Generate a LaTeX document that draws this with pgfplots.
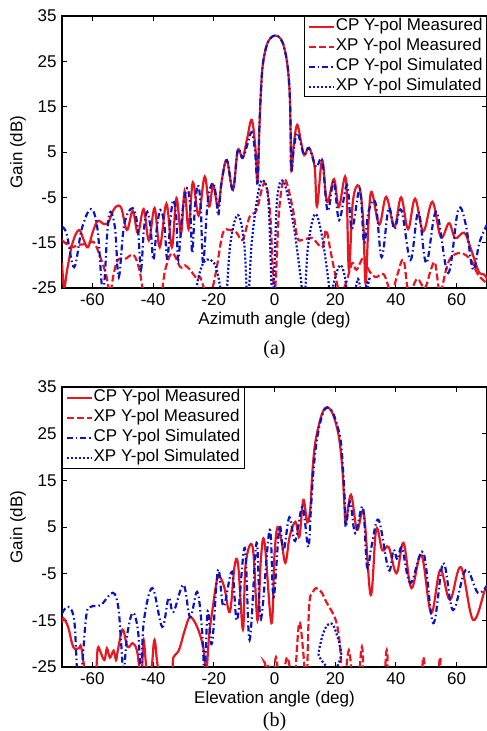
\documentclass[border=0pt]{standalone}
\usepackage{fontspec}
\setmainfont{Liberation Sans}
\newfontfamily\timesf{Liberation Serif}
\usepackage{pgfplots}
\pgfplotsset{compat=1.18}
\definecolor{mred}{RGB}{232,22,32}
\definecolor{mblue}{RGB}{12,20,190}
\newcommand\fs{\fontsize{17}{20}\selectfont}
\pgfplotsset{
  patt/.style={
    scale only axis, xmin=-70, xmax=70, ymin=-25, ymax=35,
    xtick={-60,-40,...,60}, ytick={-25,-15,...,35},
    tick align=inside, major tick length=5pt,
    tick style={black, line width=0.9pt},
    axis line style={black, line width=1.2pt},
    ticklabel style={font=\fs},
    /pgf/number format/assume math mode=true,
    xticklabel style={yshift=-2pt},
    yticklabel style={xshift=-2pt},
    every axis y label/.style={at={(axis description cs:0,0.5)}, xshift=-44pt, rotate=90, anchor=center, font=\fs},
    every axis x label/.style={at={(axis description cs:0.5,0)}, yshift=-32pt, anchor=center, font=\fs},
    ylabel={Gain (dB)},
    legend cell align=left,
    legend image code/.code={\draw[#1] (0pt,0pt) -- (25pt,0pt);},
    legend style={font=\fs, draw=black, line width=0.9pt, inner xsep=3pt, inner ysep=1pt,
      nodes={inner sep=1pt, text height=12.5pt, text depth=4pt}, row sep=1.5pt},
  },
  cpm/.style={mred, line width=2.2pt, smooth, tension=0.6},
  xpm/.style={mred, line width=2.2pt, smooth, tension=0.6, dash pattern=on 7pt off 3pt},
  cps/.style={mblue, line width=2.2pt, smooth, tension=0.6, dash pattern=on 6pt off 3pt on 1.5pt off 3pt},
  xps/.style={mblue, line width=2.2pt, smooth, tension=0.6, dash pattern=on 2pt off 2pt},
}
\begin{document}
\begin{tikzpicture}
\path[use as bounding box] (0pt,0pt) rectangle (487pt,731pt);
% ---------------- (a) azimuth
\begin{axis}[patt, at={(62pt,443pt)}, anchor=south west, width=425pt, height=272pt,
  xlabel={Azimuth angle (deg)},
  legend style={at={(1,1)}, anchor=north east}]
\addplot[cpm] coordinates {
(-70,-19.5)(-69.3,-25)(-68.3,-21)(-66.5,-15)(-64.4,-12.2)(-62.8,-14.5)(-61.4,-16)
(-59.8,-12.5)(-58.2,-10.2)(-56.5,-10.8)(-54.9,-10.7)(-53.5,-8.5)(-52.3,-7.1)(-50.5,-7.3)
(-48.6,-12.2)(-46.7,-8.0)(-45.0,-12.9)(-43.1,-7.6)(-41.4,-14.5)(-39.5,-7.4)(-37.8,-16)
(-35.6,-6.4)(-33.8,-16)(-32.3,-5.2)(-30.8,-13)(-29.6,-3.6)(-28.3,-12)(-26.9,-1.7)
(-25.0,-9)(-23.0,-0.4)(-21.5,-7)(-20.2,-2.3)(-18.6,-7.1)(-17.3,-1)(-15.7,3.2)(-13.7,-3.4)
(-12.1,5.4)(-10.5,3.7)(-9.0,8)(-7.5,12.1)(-6.3,6)(-5.6,-1.5)
(-5.0,10)(-4.5,18)(-3.9,24)(-2.8,28)(-1.5,30)(0.3,30.7)(2.0,30)(3.2,28)(4.3,24)(5.0,18)(5.3,10)(5.6,0.8)
(6.4,7)(7.5,11.0)(8.8,7)(9.8,4.3)(11.4,5.9)(13.2,1.8)(14.0,-7)(15.7,3.2)(17.3,-6)(19.6,-1.0)
(21.2,-7.1)(23.5,-0.8)(24.5,-21)(25.8,-6)(27.8,-2.5)(29.2,-10)(30.0,-24)(31.0,-10)(32.0,-3.8)
(34.5,-11)(36.8,-4.9)(39.5,-11.5)(41.7,-5.0)(44.0,-12)(46.3,-5.3)(49.0,-12.5)(52.0,-6.0)
(54.8,-13.8)(57.5,-10.7)(59.5,-14)(62.5,-12.8)(64.5,-16)(66.0,-19)(67.5,-21.7)(69.0,-22)(70,-23)};
\addplot[xpm] coordinates {
(-70,-14.4)(-67,-16)(-64.7,-15.5)(-62,-15.3)(-59.5,-14.9)(-57.5,-18)(-55.5,-22)(-54.2,-26)
(-53,-22)(-51.6,-18.8)(-49,-18.5)(-46.4,-17.7)(-44.5,-21)(-43,-26)(-40,-28)(-37.5,-27)
(-36,-21)(-33.7,-17.3)(-31,-20.4)(-29.5,-20)(-27.8,-21)(-25.5,-23)(-24.5,-22.6)(-22.5,-26)
(-20.5,-25)(-19,-20.4)(-17,-12.9)(-14.7,-12.2)(-12.5,-12.8)(-10.5,-14.4)(-8.2,-9.3)
(-5.9,-7.8)(-3.3,-1.8)(-1.5,-8)(0,-26)(1.5,-8)(3.3,-1)(5.9,-7.1)(7.5,-13.8)(9.2,-14.4)
(12.4,-14)(15.7,-16)(17,-12.2)(18.5,-17)(20,-22)(21.5,-26)(23.5,-24)(25.6,-19.5)(27,-21)
(29.4,-18.2)(31,-21)(33.3,-22.6)(36,-22)(38.5,-26)(40.5,-22)(42.5,-18.8)(44.2,-26)(47,-23)
(49.5,-25)(51.5,-21)(52.9,-19.5)(54.5,-26)(56.5,-21)(58.2,-18.2)(61.4,-17.3)(64.7,-18.8)
(67,-22)(70,-24)};
\addplot[cps] coordinates {
(-70,-11.5)(-68.5,-13)(-66,-20.4)(-63.5,-12)(-60.5,-7.6)(-58.3,-12)(-56.5,-26)(-55,-12)
(-54,-8.2)(-52.5,-12)(-51.3,-22.6)(-49.5,-11)(-46.7,-7.4)(-45,-12)(-44,-21)(-43,-12)
(-41.9,-8.2)(-40.8,-12)(-39.9,-18.8)(-38.8,-12)(-37.6,-7.8)(-36.3,-11)(-35.3,-18.8)
(-34.3,-10)(-33.3,-5.6)(-32.3,-10)(-31.7,-18.8)(-30.3,-8)(-28.8,-3.0)(-27.8,-7)(-27.1,-17.3)
(-26.2,-7)(-25.2,-2.3)(-24.3,-7)(-23.5,-19.5)(-22,-6)(-20.3,-1.8)(-19.2,-5)(-18.5,-9)
(-17.5,-2)(-15.7,3.2)(-13.7,-3.4)(-12.1,5.4)(-10.5,3.7)(-9.0,6.5)(-7.5,9.4)(-6.4,5)(-5.6,-1.9)
(-5.0,10)(-4.5,18)(-3.9,24)(-2.8,28)(-1.5,30)(0.3,30.7)(2.0,30)(3.2,28)(4.3,24)(5.0,18)(5.3,10)(5.5,0.6)
(6.4,6)(7.5,9.2)(8.8,6.5)(9.8,4.3)(11.4,5.9)(13.7,1.7)(15.7,3.2)(17.5,-8)(19.5,-1.5)(21.3,-10)
(23.9,-2.3)(25.5,-12)(28.1,-3.2)(29.5,-15)(31,-8)(33.3,-6.3)(35.3,-18.2)(37.6,-7.4)(39.5,-12)
(41.8,-7.8)(44.8,-18.8)(47.4,-8.2)(50,-19.5)(53.3,-8.2)(57.2,-21.7)(60.5,-7.8)(63,-11)
(65.4,-21)(67.5,-15)(70,-11)};
\addplot[xps] coordinates {
(-70,-30)(-27,-30)(-25.5,-24)(-23.5,-19.5)(-21,-18.8)(-19,-21)(-17,-28)(-16,-28)(-14.5,-15)
(-12.1,-8.9)(-10,-15)(-8.8,-28)(-7.5,-15)(-5.5,-4.5)(-3.9,-1.2)(-2,-6)(-0.6,-28)(0.8,-6)
(2.6,-1.3)(4.5,-5)(6.5,-12)(8.5,-22)(9.8,-28)(11,-16)(13.3,-8.7)(15.5,-13)(17.5,-22)
(18.6,-28)(19.5,-24)(21.5,-20)(23,-22)(24.5,-28)(26,-28)(27.5,-23)(29,-28)(30,-28)(31.5,-22.6)
(33,-28)(70,-30)};
\legend{CP Y-pol Measured, XP Y-pol Measured, CP Y-pol Simulated, XP Y-pol Simulated}
\end{axis}
\node[font=\timesf\fontsize{20}{22}\selectfont] at (274.5pt,381pt) {(a)};
% ---------------- (b) elevation
\begin{axis}[patt, at={(62pt,64pt)}, anchor=south west, width=425pt, height=280pt,
  xlabel={Elevation angle (deg)},
  legend style={at={(0,1)}, anchor=north west}]
\addplot[cpm] coordinates {
(-70,-15.5)(-69.6,-14.5)(-68,-16.4)(-66.3,-20.7)(-64.5,-21)(-63.7,-20.7)(-62.3,-26)(-60,-28)
(-58.8,-26)(-58.2,-20.9)(-57.2,-22)(-56,-23.5)(-55.2,-21)(-54.2,-23)(-53,-21.5)(-52.2,-23.5)
(-51.6,-21.4)(-50,-17)(-48.4,-20.7)(-46.7,-19.9)(-45.3,-21.5)(-44.3,-26)(-43.6,-25)(-43.1,-19.2)
(-42,-26)(-40.5,-25)(-39.5,-19.2)(-38,-26)(-34,-26)(-33.3,-22.9)(-31.5,-21.4)(-29.5,-17)
(-27.8,-14.3)(-25.5,-16.4)(-23.5,-20.7)(-22.5,-26)(-21.5,-18)(-20.3,-12.1)(-19,-6.5)(-18,-5.7)
(-16.5,-8)(-14.7,-13.2)(-13.2,-3.6)(-12,-3)(-10.4,-17)(-9.5,-3)(-7.2,0.7)(-5.6,-15)(-4.5,-2)
(-3.3,1.8)(-1,-15.6)(0,-1)(1,5.0)(2.3,2)(3.6,-2.7)(5,3)(6.9,6.1)(8.2,2.9)(9.5,10.8)(10.8,6)
(11.8,9)(12.4,16)(13.2,22)(14.3,26)(15.8,29.5)(17.3,30.7)(19,29.5)(20.5,26.5)(21.5,23)
(22.4,17)(23,10)(23.5,5.9)(25.2,11.9)(27.2,4.4)(29.4,8.0)(31.7,-9.6)(33.5,4.5)(35.5,0)
(37.6,0.7)(40.2,-4.9)(42.5,1.6)(45.1,-8.1)(48.4,-1.0)(51.6,-13.4)(54.6,-4.2)(57.8,-10.6)
(61.4,-3.6)(65.4,-14.9)(69.3,-8.5)(70,-8)};
\addplot[xpm] coordinates {
(-70,-30)(-4.5,-30)(-3.3,-24)(-2,-30)(-0.5,-28)(0.5,-22.9)(1.5,-28)(2.8,-27)(4.2,-22.9)
(5.5,-27)(6.5,-30)(7,-25)(8.2,-15.4)(9.5,-22)(10.5,-30)(11.4,-12.1)(12.5,-9.2)(13.7,-8.1)
(15.5,-9)(17,-11)(18,-12.1)(20.2,-15)(21.5,-20)(22.5,-30)(23,-30)(24.5,-21.4)(26,-30)
(27.5,-30)(28.8,-20.7)(30.2,-30)(35.5,-30)(37,-21.4)(38.5,-30)(47.5,-30)(49,-22.9)(50.5,-30)
(53.3,-30)(54.6,-22.9)(56,-30)(70,-30)};
\addplot[cps] coordinates {
(-70,-13.5)(-68,-12.1)(-66,-14.9)(-65,-26)(-64,-28)(-63.5,-26)(-62,-14)(-60.5,-12.1)
(-57.2,-11.7)(-53.3,-9.1)(-51.5,-12)(-50.5,-20)(-49.7,-26)(-48.5,-18)(-46.7,-13.4)(-45,-17)
(-44,-26)(-43,-15)(-40.2,-8.1)(-37,-16.4)(-34.9,-10.2)(-33.3,-13.2)(-30,-7.4)(-27.8,-14.3)
(-25.5,-8.9)(-24,-16)(-23,-26)(-22,-13)(-20.6,-20)(-18.6,-4.2)(-16.8,-12)(-14,-4.6)
(-12.3,-15)(-9.8,0.5)(-8.2,-19.2)(-5.9,1.6)(-4.5,-14.8)(-1.6,4.4)(-0.3,-10)(1.6,5.0)(3.0,0)
(4.9,7.1)(6.8,2)(9.2,9.3)(11.1,0.7)(12,9)(12.7,16)(13.6,22)(14.6,26)(16,29.5)(17.5,30.6)
(19.2,29.5)(20.8,26.5)(21.9,23)(22.6,17)(23.2,10)(23.5,5)(24.9,10.4)(26.6,3.7)(29.1,9.3)
(30.5,-3.6)(32,1)(34.3,6.5)(37.6,-4.2)(39.2,0.1)(40.5,-2)(42,0.5)(44.8,-7)(49,-0.4)
(52.3,-15.6)(55.6,-2.7)(58.8,-12.8)(63,-4.2)(67,-9.1)(70,-7.5)};
\addplot[xps] coordinates {
(-70,-30)(12.8,-30)(14.5,-22)(16.5,-17)(18.8,-15.7)(20.5,-18)(22,-22)(23.5,-30)(70,-30)};
\legend{CP Y-pol Measured, XP Y-pol Measured, CP Y-pol Simulated, XP Y-pol Simulated}
\end{axis}
\node[font=\timesf\fontsize{20}{22}\selectfont] at (274.5pt,9pt) {(b)};
\end{tikzpicture}
\end{document}
